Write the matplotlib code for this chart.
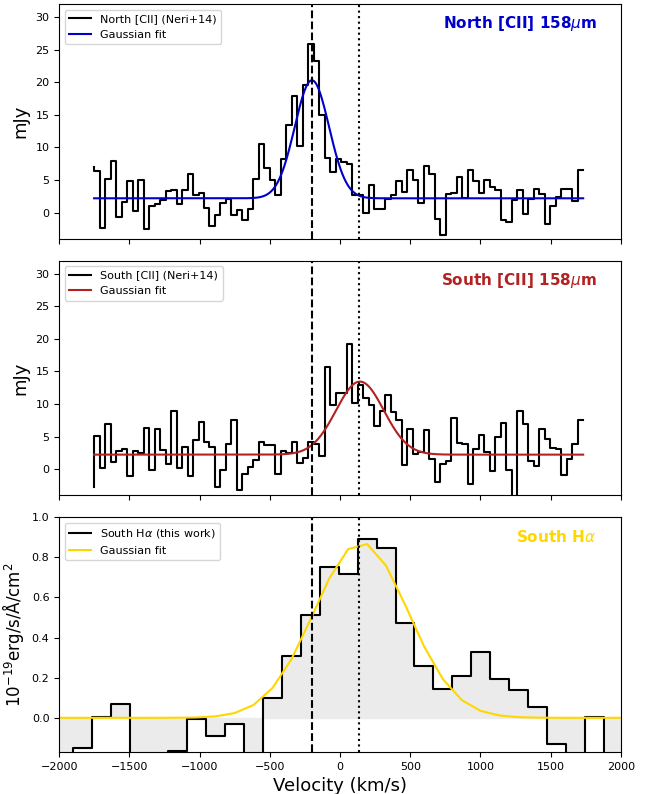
import numpy as np
import matplotlib
matplotlib.use('Agg')
import matplotlib.pyplot as plt

# [CII] spectra from Neri+14, channel edges (km/s), drawn as 'pre' steps
cii_v0 = -1751.0
cii_dv = 39.13
cii_north = [7.0,
             6.4, -2.35, 5.2, 7.86, -0.67, 1.6, 4.8, 0.25, 5.05, -2.55,
             0.97, 1.27, 1.9, 3.26, 3.4, 1.27, 3.5, 5.87, 2.65, 3.0,
             0.76, -2.1, -0.3, 1.47, 2.14, -0.41, 0.35, -1.18, 0.6, 5.2,
             10.56, 6.9, 5.05, 2.75, 8.27, 13.4, 17.86, 10.2, 19.6, 25.8,
             23.2, 14.9, 8.4, 6.3, 8.2, 7.75, 7.5, 2.65, 2.65, -0.05,
             4.2, 0.6, 0.6, 2.04, 2.65, 4.8, 3.15, 6.6, 4.95, 1.5,
             7.1, 5.97, -1.0, -3.5, 2.9, 3.0, 5.45, 2.3, 6.6, 4.8,
             3.06, 4.95, 3.9, 3.5, -1.07, -1.43, 2.0, 3.5, -0.15, 2.1,
             3.7, 2.9, -1.7, 0.96, 2.4, 3.6, 3.6, 1.8, 6.6]
cii_south = [-2.8,
             5.03, 0.26, 6.96, 1.12, 2.8, 3.15, -1.07, 2.8, 2.54, 6.35,
             -0.15, 6.1, 2.9, 0.76, 8.9, 0.26, 3.4, -1.02, 4.42, 7.32,
             4.17, 3.4, -2.7, -0.15, 3.9, 7.57, -3.2, -0.76, 0.36, 1.37,
             4.17, 3.66, 3.66, -0.66, 2.8, 2.55, 4.17, 1.0, 1.73, 4.17,
             3.9, 1.98, 15.7, 9.9, 11.7, 11.7, 19.2, 10.1, 12.9, 11.0,
             9.9, 6.6, 9.0, 11.4, 8.85, 7.5, 0.61, 6.1, 2.4, 2.6,
             5.95, 1.53, -1.93, 0.86, 1.22, 7.9, 4.07, 3.9, -2.29, 3.15,
             5.19, 2.64, -0.25, 4.93, 7.12, -0.15, -4.5, 9.0, 6.97, 1.27,
             0.5, 6.1, 4.58, 3.25, 3.15, -0.92, 1.53, 3.9, 7.58]

# Gaussian fit parameters: continuum, amplitude, centre, sigma
north_fit = (2.2, 18.1, -200.0, 122.0)
south_fit = (2.24, 11.2, 142.0, 170.0)

# Halpha spectrum (this work), bin centres (km/s), drawn as 'mid' steps
ha_v0 = -2100.4
ha_dv = 134.9
ha_flux = [-0.3, -0.25, -0.15, 0.005, 0.071, -0.3, -0.3, -0.165, -0.005, -0.092,
           -0.033, -0.25, 0.10, 0.307, 0.51, 0.754, 0.718, 0.892, 0.847, 0.472,
           0.257, 0.145, 0.206, 0.327, 0.194, 0.140, 0.055, -0.13, -0.3, 0.003,
           -0.25, -0.3]
ha_fit = (0.0, 0.873, 150.0, 335.0)

v_dashed = -200
v_dotted = 135


def gauss(v, p):
    c, a, mu, sig = p
    return c + a * np.exp(-(v - mu)**2 / (2 * sig**2))


cii_v = cii_v0 + cii_dv * np.arange(len(cii_north))
ha_v = ha_v0 + ha_dv * np.arange(len(ha_flux))
vfine = np.linspace(cii_v[0], cii_v[-1], 600)

fig, axes = plt.subplots(3, 1, figsize=(6.57, 7.94), dpi=100, sharex=True)
plt.subplots_adjust(left=0.09, right=0.945, top=0.995, bottom=0.053, hspace=0.093)

panels = [
    (axes[0], cii_north, north_fit, '#0000CD', 'North [CII] (Neri+14)', r'North [CII] 158$\mu$m'),
    (axes[1], cii_south, south_fit, '#B22222', 'South [CII] (Neri+14)', r'South [CII] 158$\mu$m'),
]
for ax, flux, fit, col, lab, title in panels:
    ax.step(cii_v, flux, where='pre', color='k', lw=1.5, label=lab)
    ax.plot(vfine, gauss(vfine, fit), color=col, lw=1.5, label='Gaussian fit')
    ax.axvline(v_dashed, color='k', ls='--', lw=1.5)
    ax.axvline(v_dotted, color='k', ls=':', lw=1.5)
    ax.set_ylim(-4, 32)
    ax.set_yticks(np.arange(0, 31, 5))
    ax.set_ylabel('mJy', fontsize=13)
    ax.legend(loc='upper left', fontsize=8)
    ax.text(0.957, 0.915, title, transform=ax.transAxes, ha='right', va='center',
            color=col, fontsize=11, fontweight='bold')
    ax.tick_params(labelsize=8)

ax = axes[2]
ax.fill_between(ha_v, 0, ha_flux, step='mid', color='#ebebeb')
ax.step(ha_v, ha_flux, where='mid', color='k', lw=1.5, label=r'South H$\alpha$ (this work)')
ax.plot(ha_v, gauss(ha_v, ha_fit), color='#FFD700', lw=1.5, label='Gaussian fit')
ax.axvline(v_dashed, color='k', ls='--', lw=1.5)
ax.axvline(v_dotted, color='k', ls=':', lw=1.5)
ax.set_ylim(-0.17, 1.0)
ax.set_yticks(np.arange(0, 1.01, 0.2))
ax.set_xlim(-2000, 2000)
ax.set_xticks(np.arange(-2000, 2001, 500))
ax.set_ylabel(r'10$^{-19}$erg/s/Å/cm$^2$', fontsize=12)
ax.set_xlabel('Velocity (km/s)', fontsize=13)
ax.legend(loc='upper left', fontsize=8)
ax.text(0.957, 0.915, r'South H$\alpha$', transform=ax.transAxes, ha='right', va='center',
        color='#FFD700', fontsize=11, fontweight='bold')
ax.tick_params(labelsize=8)

fig.savefig('out.png', dpi=100)
